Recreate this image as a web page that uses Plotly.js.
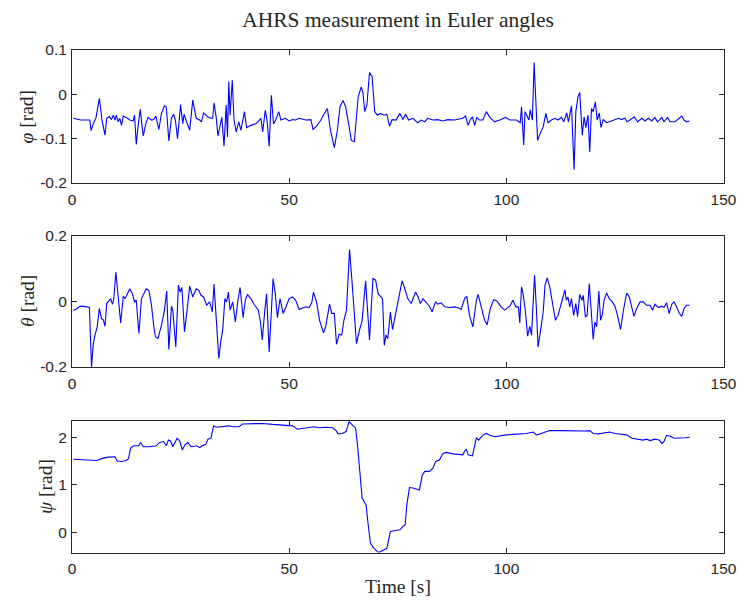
<!DOCTYPE html>
<html>
<head>
<meta charset="utf-8">
<script src="https://cdn.plot.ly/plotly-3.0.1.min.js"></script>
<style>html,body{margin:0;padding:0;background:#fff;}#chart{width:739px;height:604px;}</style>
</head>
<body>
<div id="chart"></div>
<script>
// ---- data ----
const phiTime = [0.3,2.0,4.1,4.4,4.9,5.5,6.3,6.9,7.6,8.0,8.6,9.1,9.5,9.9,10.2,10.6,11.0,11.4,11.8,12.5,13.3,14.1,14.4,14.8,15.2,15.7,16.4,17.0,17.5,18.3,18.8,19.3,20.0,20.6,21.3,21.7,22.3,22.9,23.4,23.8,24.3,24.6,25.0,25.5,25.8,26.4,27.1,27.8,28.6,29.4,29.8,30.3,31.3,32.0,32.4,32.7,33.2,33.6,34.1,34.5,35.0,35.5,35.8,36.1,36.4,36.9,37.3,37.8,38.4,38.9,39.7,40.2,41.2,42.4,43.5,43.9,44.5,44.9,45.4,45.9,46.4,46.9,47.6,48.1,49.1,50.0,50.8,51.5,52.3,53.8,55.0,55.5,56.3,57.3,58.0,58.8,59.5,60.4,61.1,61.7,62.4,63.0,63.8,64.3,65.0,65.4,65.9,66.6,67.0,67.4,67.9,68.5,69.1,69.7,70.3,71.0,71.9,72.5,73.1,73.7,74.6,75.5,76.2,76.8,77.5,78.5,79.6,80.4,81.2,81.9,83.1,84.2,85.4,86.5,88.1,90.0,90.6,91.2,91.7,92.2,92.7,93.2,93.8,94.6,95.4,96.2,97.3,98.5,99.8,100.8,102.3,103.2,103.5,104.0,104.3,104.7,105.2,105.5,106.0,106.4,106.8,107.2,107.8,108.5,109.1,109.6,110.4,111.2,111.9,112.7,113.2,113.9,114.3,115.0,115.6,116.0,116.5,116.9,117.3,117.5,117.9,118.3,118.8,119.2,119.6,120.0,120.5,120.9,121.4,121.8,122.3,123.1,124.2,125.8,126.5,127.3,127.8,128.5,129.5,130.2,131.2,131.9,132.7,133.5,134.2,134.8,135.8,136.3,137.1,137.7,138.8,139.8,140.4,140.9,141.5,142.2];
const phiVals = [-0.054,-0.058,-0.058,-0.082,-0.066,-0.054,-0.009,-0.058,-0.092,-0.054,-0.050,-0.057,-0.047,-0.058,-0.047,-0.062,-0.054,-0.070,-0.049,-0.052,-0.058,-0.060,-0.047,-0.113,-0.073,-0.034,-0.094,-0.066,-0.052,-0.058,-0.057,-0.049,-0.079,-0.043,-0.026,-0.028,-0.105,-0.054,-0.045,-0.058,-0.100,-0.066,-0.023,-0.066,-0.045,-0.062,-0.081,-0.013,-0.054,-0.058,-0.062,-0.042,-0.051,-0.054,-0.054,-0.019,-0.052,-0.094,-0.066,-0.052,-0.117,-0.024,-0.096,0.029,-0.047,0.032,-0.058,-0.085,-0.062,-0.081,-0.039,-0.075,-0.070,-0.066,-0.054,-0.085,-0.036,-0.058,-0.117,-0.002,-0.067,-0.058,-0.039,-0.058,-0.054,-0.060,-0.057,-0.058,-0.054,-0.058,-0.057,-0.079,-0.072,-0.058,-0.045,-0.032,-0.081,-0.120,-0.081,-0.028,-0.014,-0.028,-0.073,-0.104,-0.107,-0.066,-0.005,0.017,0.002,-0.039,-0.024,0.049,0.040,-0.039,-0.047,-0.043,-0.047,-0.045,-0.072,-0.057,-0.058,-0.043,-0.057,-0.045,-0.058,-0.054,-0.064,-0.058,-0.062,-0.054,-0.058,-0.057,-0.060,-0.057,-0.058,-0.054,-0.049,-0.070,-0.057,-0.051,-0.070,-0.052,-0.058,-0.058,-0.039,-0.052,-0.062,-0.058,-0.052,-0.058,-0.058,-0.064,-0.028,-0.115,-0.039,-0.047,-0.058,-0.035,-0.058,0.072,-0.028,-0.104,-0.088,-0.073,-0.043,-0.064,-0.058,-0.054,-0.058,-0.052,-0.062,-0.042,-0.062,-0.026,-0.170,-0.039,-0.005,0.004,-0.062,-0.092,-0.051,-0.075,-0.047,-0.130,-0.032,-0.039,-0.017,-0.058,-0.042,-0.075,-0.057,-0.064,-0.060,-0.054,-0.057,-0.054,-0.062,-0.057,-0.051,-0.062,-0.054,-0.060,-0.054,-0.060,-0.052,-0.062,-0.052,-0.062,-0.052,-0.062,-0.062,-0.054,-0.049,-0.058,-0.062,-0.060];

const thetaTime = [0.3,0.9,1.7,2.2,3.4,4.0,4.5,4.9,5.3,5.8,6.3,6.8,7.2,7.6,8.0,8.6,8.9,9.3,9.6,10.1,10.6,11.2,11.8,12.2,12.5,13.3,13.9,14.4,14.8,15.4,16.0,16.5,17.1,17.7,18.3,18.8,19.2,19.8,20.6,21.3,21.8,22.3,22.9,23.2,23.9,24.5,24.9,25.3,25.9,26.5,27.1,27.8,28.6,29.2,29.7,30.3,31.0,31.7,32.3,32.7,33.2,33.8,34.3,34.7,35.2,35.6,36.0,36.4,37.0,37.6,38.2,38.7,39.4,39.9,40.4,41.2,41.9,42.9,43.4,43.8,44.4,44.8,45.4,45.9,46.3,46.8,47.3,47.9,48.6,49.2,50.0,50.8,51.5,52.3,53.1,53.8,54.6,55.2,55.6,56.3,57.0,57.9,58.4,59.3,59.8,60.4,60.9,61.5,62.1,62.6,63.2,63.9,64.5,65.0,65.5,66.2,66.8,67.6,68.0,68.5,69.0,69.3,69.9,70.5,70.8,71.5,71.9,72.3,72.7,73.3,73.8,74.5,75.2,76.0,76.5,77.3,78.1,79.1,79.7,80.2,80.8,81.5,82.3,82.9,83.7,84.2,85.0,85.8,86.9,88.1,88.8,89.6,90.4,90.9,91.5,92.3,93.1,93.5,94.2,95.0,95.6,96.3,97.1,97.8,98.8,99.6,100.8,101.5,102.2,102.8,103.1,103.5,103.8,104.4,104.9,105.4,105.8,106.1,106.5,106.9,107.3,107.9,108.5,108.9,109.4,110.0,110.6,111.3,111.9,112.7,113.5,113.8,114.2,114.6,115.0,115.5,116.0,116.4,116.9,117.4,117.7,118.2,118.6,119.1,119.5,120.0,120.4,120.8,121.3,121.7,122.1,122.5,123.1,123.7,124.4,125.0,125.6,126.3,126.9,127.7,128.3,128.9,129.4,130.0,130.8,131.5,132.3,133.1,133.7,134.2,135.0,135.8,136.3,136.9,137.5,138.1,138.6,139.2,139.8,140.4,140.9,141.5,142.2];
const thetaVals = [-0.027,-0.025,-0.017,-0.015,-0.017,-0.019,-0.200,-0.129,-0.103,-0.078,-0.022,-0.053,-0.056,-0.076,-0.007,0.005,0.008,-0.009,0.003,0.089,0.013,-0.066,0.015,0.008,0.015,0.038,0.023,-0.002,0.003,-0.098,0.008,0.023,0.038,0.033,-0.012,-0.073,-0.108,-0.113,-0.073,-0.027,0.031,-0.147,-0.015,-0.027,-0.139,0.049,0.028,0.042,-0.093,-0.027,0.046,0.013,0.038,0.033,0.018,0.013,-0.012,-0.002,-0.032,0.052,-0.048,-0.174,-0.118,-0.088,0.008,-0.002,0.028,-0.027,-0.002,-0.063,0.003,0.042,-0.050,0.003,0.021,0.008,-0.009,-0.027,-0.063,-0.118,-0.027,0.023,-0.154,-0.017,0.069,0.023,-0.050,0.008,-0.037,-0.019,0.008,0.013,0.003,-0.025,-0.022,-0.017,-0.019,-0.005,0.028,-0.002,-0.058,-0.096,-0.078,-0.009,-0.037,-0.037,-0.131,-0.100,-0.103,-0.058,-0.027,0.157,0.054,-0.037,-0.129,-0.088,-0.058,0.062,-0.017,-0.118,0.003,0.069,0.064,0.023,0.018,0.008,-0.134,-0.103,-0.114,-0.033,-0.086,-0.038,0.013,0.062,0.044,0.008,-0.007,0.028,0.013,-0.007,0.008,-0.002,-0.015,-0.032,-0.002,-0.009,-0.005,-0.017,-0.019,-0.017,-0.019,-0.025,0.008,0.015,-0.043,-0.078,0.003,0.021,-0.012,-0.058,-0.071,-0.022,0.005,0.001,-0.017,-0.027,-0.015,0.003,-0.017,-0.017,-0.066,0.044,0.028,-0.032,-0.106,-0.076,-0.103,-0.032,0.079,-0.017,-0.139,-0.088,-0.032,0.048,0.071,0.044,-0.007,-0.058,-0.043,-0.002,0.035,0.003,0.013,-0.017,0.008,-0.043,-0.007,-0.046,0.021,0.003,0.018,-0.048,-0.043,0.054,-0.017,-0.116,-0.063,-0.078,0.031,-0.058,-0.040,0.003,0.025,0.008,-0.002,-0.015,-0.043,-0.086,-0.032,0.025,0.013,-0.022,-0.046,-0.022,-0.002,-0.002,-0.012,-0.012,-0.027,-0.009,-0.019,-0.015,-0.019,-0.005,-0.037,-0.009,-0.002,-0.017,-0.036,-0.046,-0.022,-0.012,-0.012];

const psiTime = [0.3,3.4,5.7,7.2,8.3,9.9,10.4,11.4,12.5,13.0,13.5,14.2,15.4,15.8,16.4,17.9,19.4,20.2,21.1,21.7,22.2,22.7,23.2,24.2,24.8,25.4,26.0,26.7,27.4,28.2,28.7,29.4,30.0,30.8,31.3,32.0,32.6,33.2,34.7,36.2,37.0,38.5,39.3,41.6,43.9,46.2,47.7,50.0,50.8,51.9,53.4,54.6,55.7,56.9,58.4,60.0,60.7,61.3,62.2,63.1,63.8,64.5,65.3,65.8,66.3,66.8,67.4,67.7,68.2,68.7,69.5,70.3,70.6,71.4,72.5,72.9,73.3,74.1,75.1,75.5,76.2,76.7,77.1,77.7,78.5,80.0,80.6,81.2,82.3,83.1,83.7,84.6,85.4,86.2,87.7,90.0,90.4,90.8,91.2,92.2,92.7,93.1,93.6,94.2,94.8,95.4,96.2,97.3,98.5,100.0,101.5,103.1,104.6,106.2,106.9,107.7,108.8,110.0,112.3,114.6,116.9,118.1,119.2,120.0,121.2,122.7,123.8,125.0,126.2,127.7,128.9,130.4,131.5,132.3,133.1,134.2,135.2,135.8,136.3,136.9,137.7,138.6,140.0,141.2,142.2];
const psiVals = [1.537,1.52,1.51,1.56,1.58,1.59,1.50,1.49,1.51,1.55,1.77,1.82,1.82,1.89,1.80,1.80,1.82,1.89,1.91,1.82,1.94,1.92,1.80,1.98,1.92,1.73,1.84,1.89,1.80,1.81,1.82,1.78,1.82,1.85,1.96,1.98,2.24,2.21,2.22,2.24,2.22,2.22,2.28,2.28,2.29,2.27,2.26,2.26,2.24,2.17,2.19,2.21,2.22,2.20,2.21,2.20,2.15,2.07,2.08,2.12,2.33,2.26,2.19,1.77,1.28,0.72,0.62,0.58,0.15,-0.23,-0.34,-0.41,-0.43,-0.39,-0.34,-0.16,0.01,0.03,0.035,0.05,0.12,0.15,0.58,0.94,0.93,0.89,1.19,1.28,1.28,1.35,1.49,1.52,1.66,1.68,1.65,1.63,1.71,1.75,1.63,1.61,1.82,1.99,1.94,1.99,2.06,2.08,2.04,2.01,2.03,2.05,2.06,2.07,2.08,2.11,2.05,2.07,2.11,2.14,2.14,2.13,2.12,2.13,2.14,2.08,2.07,2.10,2.11,2.08,2.07,2.05,1.98,1.96,1.94,1.96,1.93,1.96,1.94,1.87,1.91,2.04,2.02,1.98,1.98,1.99,2.00];

const xTickVals = [0, 50, 100, 150];
const xTickText = ['0', '50', '100', '150'];
const phiTickVals = [-0.2, -0.1, 0, 0.1];
const phiTickText = ['-0.2', '-0.1', '0', '0.1'];
const thetaTickVals = [-0.2, 0, 0.2];
const thetaTickText = ['-0.2', '0', '0.2'];
const psiTickVals = [0, 1, 2];
const psiTickText = ['0', '1', '2'];

const chartTitle = 'AHRS measurement in Euler angles';
const xLabel = 'Time [s]';
const yLabels = ['<i>φ</i> [rad]', '<i>θ</i> [rad]', '<i>ψ</i> [rad]'];

// ---- figure ----
const W = 739, H = 604;
const axisColor = '#262626';
const tickFont = {family: 'Liberation Sans, Arial, sans-serif', size: 15.5, color: axisColor};
const serif = 'Liberation Serif, Times New Roman, serif';
const lineStyle = {color: '#0000ff', width: 1.1};

function px2x(p) { return p / W; }
function py2y(p) { return 1 - p / H; }

function xAxis(anchor) {
  return {
    anchor: anchor, domain: [px2x(72), px2x(723.5)], range: [0, 150],
    tickmode: 'array', tickvals: xTickVals, ticktext: xTickText,
    ticks: 'inside', ticklen: 5, tickwidth: 1, tickcolor: axisColor,
    showline: true, linecolor: axisColor, linewidth: 1, mirror: 'ticks',
    showgrid: false, zeroline: false, tickfont: tickFont, ticklabelstandoff: 2
  };
}
function yAxis(anchor, top, bottom, range, tv, tt) {
  return {
    anchor: anchor, domain: [py2y(bottom), py2y(top)], range: range,
    tickmode: 'array', tickvals: tv, ticktext: tt,
    ticks: 'inside', ticklen: 5, tickwidth: 1, tickcolor: axisColor,
    showline: true, linecolor: axisColor, linewidth: 1, mirror: 'ticks',
    showgrid: false, zeroline: false, tickfont: tickFont, ticklabelstandoff: 1
  };
}

const traces = [
  {x: phiTime, y: phiVals, xaxis: 'x', yaxis: 'y', type: 'scatter', mode: 'lines', line: lineStyle, hoverinfo: 'skip'},
  {x: thetaTime, y: thetaVals, xaxis: 'x2', yaxis: 'y2', type: 'scatter', mode: 'lines', line: lineStyle, hoverinfo: 'skip'},
  {x: psiTime, y: psiVals, xaxis: 'x3', yaxis: 'y3', type: 'scatter', mode: 'lines', line: lineStyle, hoverinfo: 'skip'}
];

const labelFont = {family: serif, size: 19.5, color: '#262626'};

const layout = {
  width: W, height: H,
  margin: {l: 0, r: 0, t: 0, b: 0},
  paper_bgcolor: '#ffffff', plot_bgcolor: '#ffffff',
  showlegend: false,
  title: {text: chartTitle, font: {family: serif, size: 21.5, color: '#262626'},
          x: px2x(398), xanchor: 'center', xref: 'paper', y: py2y(19), yanchor: 'middle', yref: 'container'},
  xaxis: xAxis('y'),
  xaxis2: xAxis('y2'),
  xaxis3: xAxis('y3'),
  yaxis: yAxis('x', 50, 183, [-0.2, 0.1], phiTickVals, phiTickText),
  yaxis2: yAxis('x2', 235.5, 367, [-0.2, 0.2], thetaTickVals, thetaTickText),
  yaxis3: yAxis('x3', 421, 552.5, [-0.428, 2.342], psiTickVals, psiTickText),
  annotations: [
    {text: yLabels[0], xref: 'paper', yref: 'paper', x: px2x(26), y: py2y(116.5), textangle: -90,
     xanchor: 'center', yanchor: 'middle', showarrow: false, font: labelFont},
    {text: yLabels[1], xref: 'paper', yref: 'paper', x: px2x(27), y: py2y(301), textangle: -90,
     xanchor: 'center', yanchor: 'middle', showarrow: false, font: labelFont},
    {text: yLabels[2], xref: 'paper', yref: 'paper', x: px2x(45), y: py2y(487), textangle: -90,
     xanchor: 'center', yanchor: 'middle', showarrow: false, font: labelFont},
    {text: xLabel, xref: 'paper', yref: 'paper', x: px2x(398), y: py2y(586), xanchor: 'center', yanchor: 'middle',
     showarrow: false, font: labelFont}
  ]
};

Plotly.newPlot('chart', traces, layout, {staticPlot: true, displayModeBar: false});
</script>
</body>
</html>
